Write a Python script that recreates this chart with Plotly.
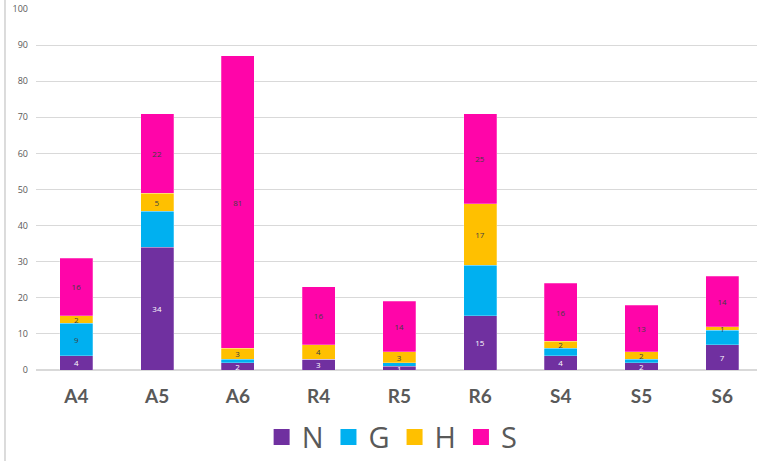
import plotly.graph_objects as go

categories = ["A4", "A5", "A6", "R4", "R5", "R6", "S4", "S5", "S6"]
n_vals = [4, 34, 2, 3, 1, 15, 4, 2, 7]
g_vals = [9, 10, 1, 0, 1, 14, 2, 1, 4]
h_vals = [2, 5, 3, 4, 3, 17, 2, 2, 1]
s_vals = [16, 22, 81, 16, 14, 25, 16, 13, 14]

# labels shown in the reference (some small/unlabelled segments are blank)
n_text = ["4", "34", "2", "3", "1", "15", "4", "2", "7"]
g_text = ["9", "", "", "", "", "", "", "", ""]
h_text = ["2", "5", "3", "4", "3", "17", "2", "2", "1"]
s_text = ["16", "22", "81", "16", "14", "25", "16", "13", "14"]

series = [
    ("N", n_vals, n_text, "#7030A0", "#FFFFFF"),
    ("G", g_vals, g_text, "#00B0F0", "#404040"),
    ("H", h_vals, h_text, "#FFC000", "#404040"),
    ("S", s_vals, s_text, "#FF05A9", "#404040"),
]

fig = go.Figure()
for name, vals, txt, col, tcol in series:
    fig.add_trace(go.Bar(
        x=categories, y=vals, name=name, text=txt,
        textposition="inside", insidetextanchor="middle", textangle=0,
        constraintext="none",
        textfont=dict(size=8, color=tcol, family="Open Sans"),
        marker=dict(color=col, line=dict(color="rgba(255,255,255,0.5)", width=0.5)),
        showlegend=False, hoverinfo="skip",
    ))
    fig.add_trace(go.Scatter(
        x=[None], y=[None], mode="markers", name=name,
        marker=dict(symbol="square", size=16, color=col),
        showlegend=True,
    ))

fig.update_layout(
    width=757, height=461,
    margin=dict(l=36, r=0, t=9, b=91, autoexpand=False),
    barmode="stack", bargap=0.59,
    plot_bgcolor="white", paper_bgcolor="white",
    uniformtext=dict(mode="show", minsize=8),
    xaxis=dict(
        type="category", range=[-0.5, 8.43],
        tickfont=dict(size=19, color="#595959", family="Lato", weight="bold"),
        showgrid=False, showline=False, ticks="",
        ticklabelstandoff=13,
    ),
    yaxis=dict(
        range=[0, 100], dtick=10,
        tickfont=dict(size=9, color="#595959", family="Open Sans"),
        gridcolor="#D9D9D9", gridwidth=1, zeroline=True, zerolinecolor="#D9D9D9",
        showline=False, ticks="", ticklabelstandoff=7,
    ),
    legend=dict(
        orientation="h", xref="container", x=0.518, xanchor="center",
        yref="container", y=0.052, yanchor="middle",
        font=dict(size=29, color="#595959", family="Open Sans"),
        itemwidth=30, traceorder="normal",
    ),
    shapes=[dict(type="line", xref="paper", yref="paper",
                 x0=-0.043, x1=-0.043, y0=-0.26, y1=1.03,
                 line=dict(color="#D0D0D0", width=1.5))],
    font=dict(family="Open Sans"),
)

fig.write_html("out.html",
               config={"displayModeBar": False},
               post_script="document.body.style.margin='0';document.body.style.overflow='hidden';")
